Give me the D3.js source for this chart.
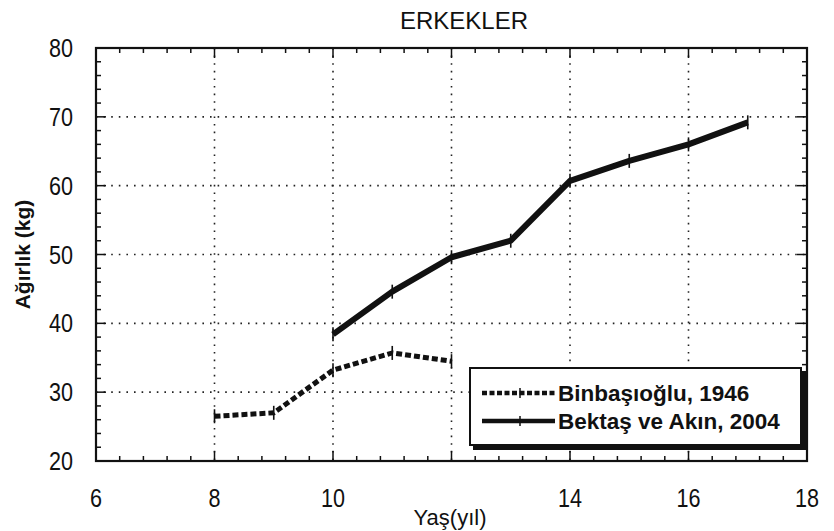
<!DOCTYPE html>
<html>
<head>
<meta charset="utf-8">
<script src="https://cdn.jsdelivr.net/npm/d3@7"></script>
<style>
  body { margin: 0; background: #fff; }
  svg text { font-family: "Liberation Sans", Arial, sans-serif; fill: #111; }
</style>
</head>
<body>
<div id="chart"></div>
<script>
// data
let ages1946 = [8, 9, 10, 11, 12];
let weights1946 = [26.5, 27, 33.2, 35.7, 34.5];
let ages2004 = [10, 11, 12, 13, 14, 15, 16, 17];
let weights2004 = [38.4, 44.6, 49.6, 52.0, 60.7, 63.6, 66.0, 69.2];
let xTicks = [6, 8, 10, 14, 16, 18];
let yTicks = [20, 30, 40, 50, 60, 70, 80];
let legendLabels = ["Binbaşıoğlu, 1946", "Bektaş ve Akın, 2004"];

let width = 834, height = 531;
let margin = {top: 48, right: 27, bottom: 70, left: 96};

let svg = d3.select("#chart").append("svg")
  .attr("width", width)
  .attr("height", height);

let x = d3.scaleLinear().domain([6, 18]).range([margin.left, width - margin.right]);
let y = d3.scaleLinear().domain([20, 80]).range([height - margin.bottom, margin.top]);

// dotted grid
let grid = svg.append("g").attr("stroke", "#222").attr("stroke-width", 1.6)
  .attr("stroke-dasharray", "1.6,6");
grid.selectAll(".gx").data([8, 10, 12, 14, 16]).enter().append("line")
  .attr("x1", d => x(d)).attr("x2", d => x(d))
  .attr("y1", y(80)).attr("y2", y(20));
grid.selectAll(".gy").data([30, 40, 50, 60, 70]).enter().append("line")
  .attr("x1", x(6)).attr("x2", x(18))
  .attr("y1", d => y(d)).attr("y2", d => y(d));

// minor ticks pointing inward on every side
let minorX = d3.range(6, 18.01, 0.4);
let minorY = d3.range(20, 80.01, 2);
let ticks = svg.append("g").attr("stroke", "#111").attr("stroke-width", 1.5);
ticks.selectAll(".tb").data(minorX).enter().append("line")
  .attr("x1", d => x(d)).attr("x2", d => x(d))
  .attr("y1", y(20)).attr("y2", d => y(20) - (Math.abs(d % 2) < 0.01 ? 10 : 5));
ticks.selectAll(".tt").data(minorX).enter().append("line")
  .attr("x1", d => x(d)).attr("x2", d => x(d))
  .attr("y1", y(80)).attr("y2", d => y(80) + (Math.abs(d % 2) < 0.01 ? 10 : 5));
ticks.selectAll(".tl").data(minorY).enter().append("line")
  .attr("y1", d => y(d)).attr("y2", d => y(d))
  .attr("x1", x(6)).attr("x2", d => x(6) + (d % 10 === 0 ? 10 : 5));
ticks.selectAll(".tr").data(minorY).enter().append("line")
  .attr("y1", d => y(d)).attr("y2", d => y(d))
  .attr("x1", x(18)).attr("x2", d => x(18) - (d % 10 === 0 ? 10 : 5));

// frame
svg.append("rect")
  .attr("x", x(6)).attr("y", y(80))
  .attr("width", x(18) - x(6)).attr("height", y(20) - y(80))
  .attr("fill", "none").attr("stroke", "#111").attr("stroke-width", 2.2);

// tick labels (condensed look of the scanned figure)
svg.append("g").selectAll("text").data(xTicks).enter().append("text")
  .attr("transform", d => "translate(" + x(d) + "," + (height - margin.bottom + 46) + ") scale(0.83,1)")
  .attr("text-anchor", "middle").attr("font-size", 26)
  .text(d => d);
svg.append("g").selectAll("text").data(yTicks).enter().append("text")
  .attr("transform", d => "translate(73," + (y(d) + 9) + ") scale(0.83,1)")
  .attr("text-anchor", "end").attr("font-size", 26)
  .text(d => d);

// titles
svg.append("text").attr("x", 464).attr("y", 29)
  .attr("text-anchor", "middle").attr("font-size", 24).text("ERKEKLER");
svg.append("text").attr("x", 450).attr("y", 525)
  .attr("text-anchor", "middle").attr("font-size", 22).text("Yaş(yıl)");
svg.append("text")
  .attr("transform", "translate(30," + y(50) + ") rotate(-90)")
  .attr("text-anchor", "middle").attr("font-size", 21).attr("font-weight", "bold")
  .text("Ağırlık (kg)");

// series
let line = d3.line().x(d => x(d[0])).y(d => y(d[1]));
let s1946 = ages1946.map((a, i) => [a, weights1946[i]]);
let s2004 = ages2004.map((a, i) => [a, weights2004[i]]);

svg.append("path").datum(s1946).attr("d", line)
  .attr("fill", "none").attr("stroke", "#111").attr("stroke-width", 5)
  .attr("stroke-dasharray", "6,3");
svg.append("path").datum(s2004).attr("d", line)
  .attr("fill", "none").attr("stroke", "#111").attr("stroke-width", 6)
  .attr("stroke-linejoin", "round");

// small vertical marks at the data points
[s1946, s2004].forEach(s => {
  svg.append("g").selectAll("line").data(s).enter().append("line")
    .attr("x1", d => x(d[0])).attr("x2", d => x(d[0]))
    .attr("y1", d => y(d[1]) - 7).attr("y2", d => y(d[1]) + 7)
    .attr("stroke", "#111").attr("stroke-width", 1.6);
});

// legend
let lg = svg.append("g").attr("transform", "translate(470,368)");
lg.append("rect").attr("x", 3).attr("y", 3).attr("width", 333).attr("height", 79)
  .attr("fill", "#111");
lg.append("rect").attr("width", 331).attr("height", 77)
  .attr("fill", "#fff").attr("stroke", "#111").attr("stroke-width", 2);
let styles = [{w: 4.5, dash: "5,2.5"}, {w: 4.5, dash: null}];
legendLabels.forEach((lab, i) => {
  let yy = 25 + i * 28;
  lg.append("line").attr("x1", 12).attr("x2", 85).attr("y1", yy).attr("y2", yy)
    .attr("stroke", "#111").attr("stroke-width", styles[i].w)
    .attr("stroke-dasharray", styles[i].dash);
  lg.append("line").attr("x1", 50).attr("x2", 50).attr("y1", yy - 5).attr("y2", yy + 5)
    .attr("stroke", "#111").attr("stroke-width", 1.5);
  lg.append("text").attr("x", 88).attr("y", yy + 8)
    .attr("font-size", 22.5).attr("font-weight", "bold").text(lab);
});
</script>
</body>
</html>
